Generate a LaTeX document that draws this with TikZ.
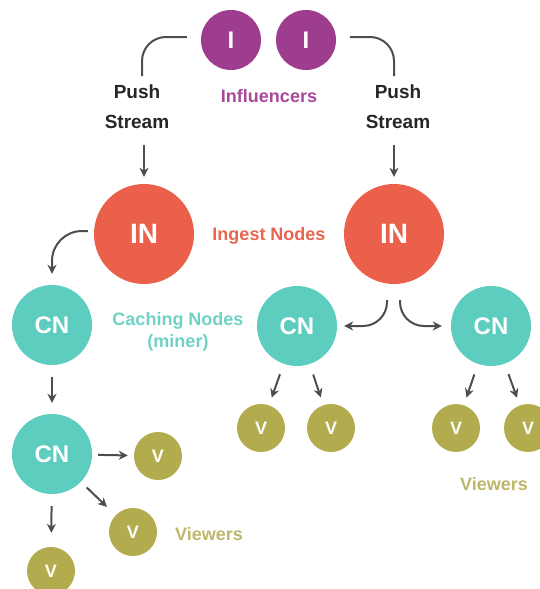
\documentclass[tikz,border=0pt]{standalone}
\usepackage{fontspec}
\setmainfont{Liberation Sans}
\usetikzlibrary{arrows.meta}
\definecolor{cI}{HTML}{9E3D8E}\definecolor{cIt}{HTML}{A8479B}
\definecolor{cIN}{HTML}{EA604A}\definecolor{cINt}{HTML}{E8654F}
\definecolor{cCN}{HTML}{5CCDBF}\definecolor{cCNt}{HTML}{70D1C5}
\definecolor{cV}{HTML}{B3AC4E}\definecolor{cVt}{HTML}{BDB76A}
\definecolor{cA}{HTML}{4D4D4D}\definecolor{cT}{HTML}{262626}
\newcommand{\fs}[1]{\fontsize{#1}{#1}\selectfont\bfseries}
\tikzset{>={Stealth[length=9pt,width=9pt]},every node/.style={font=\fs{18}},
dot/.style={circle,inner sep=0pt,text=white},
infl/.style={dot,fill=cI,minimum size=60pt,font=\fs{24}},
ingest/.style={dot,fill=cIN,minimum size=100pt,font=\fs{28}},
cache/.style={dot,fill=cCN,minimum size=80pt,font=\fs{24}},
viewer/.style={dot,fill=cV,minimum size=48pt,font=\fs{18}},
lbl/.style={inner sep=0pt,align=center},
flow/.style={line width=2pt,draw=cA,->},edge/.style={line width=2pt,draw=cA}}

\begin{document}
\begin{tikzpicture}[x=1pt,y=-1pt]
\useasboundingbox (0,0) rectangle (539,589);
\node[infl] (i1) at (231,40) {I};\node[infl] (i2) at (306,40) {I};
\node[lbl,text=cIt,anchor=base] (inf) at (269,102) {Influencers};
\node[lbl,text=cT,anchor=north,font=\fontsize{19}{30}\selectfont\bfseries] (pushL) at (137,85) {Push\\Stream};
\node[lbl,text=cT,anchor=north,font=\fontsize{19}{30}\selectfont\bfseries] (pushR) at (398,85) {Push\\Stream};
\node[ingest] (inL) at (144,234) {IN};\node[ingest] (inR) at (394,234) {IN};
\node[lbl,text=cINt,anchor=base] (ing) at (269,240) {Ingest Nodes};
\node[cache] (cnA) at (52,325) {CN};\node[cache] (cnB) at (52,454) {CN};
\node[cache] (cnM) at (297,326) {CN};\node[cache] (cnR) at (491,326) {CN};
\node[lbl,text=cCNt,anchor=north,font=\fontsize{18}{22}\selectfont\bfseries] (cach) at (178,312) {Caching Nodes\\(miner)};
% viewers
\node[viewer] (vA) at (158,456) {V};\node[viewer] (vB) at (133,532) {V};\node[viewer] (vC) at (51,571) {V};
\node[viewer] (vM1) at (261,428) {V};\node[viewer] (vM2) at (331,428) {V};
\node[viewer] (vR1) at (456,428) {V};\node[viewer] (vR2) at (528,428) {V};
\node[lbl,text=cVt,anchor=base] (viewL) at (209,540) {Viewers};
\node[lbl,text=cVt,anchor=base] (viewR) at (494,490) {Viewers};
% streams
\draw[edge,rounded corners=24pt] ([xshift=-14pt,yshift=3pt]i1.west) -| ([xshift=5pt,yshift=9pt]pushL.north);
\draw[edge,rounded corners=24pt] ([xshift=14pt,yshift=3pt]i2.east) -| ([xshift=-4pt,yshift=9pt]pushR.north);
\draw[flow,shorten <=16pt,shorten >=7pt] (pushL.south -| inL) -- (inL.north);
\draw[flow,shorten <=16pt,shorten >=7pt] (pushR.south -| inR) -- (inR.north);
\draw[flow,rounded corners=30pt] ([xshift=-6pt,yshift=3pt]inL.west) -| ([yshift=11pt]cnA.north);
\draw[flow,rounded corners=24pt] ([xshift=-7pt,yshift=-16pt]inR.south) |- ([xshift=7pt]cnM.east);
\draw[flow,rounded corners=24pt] ([xshift=6pt,yshift=-16pt]inR.south) |- ([xshift=-9pt]cnR.west);
\draw[flow,shorten <=12pt,shorten >=11pt] (cnA) -- (cnB);
\draw[flow,shorten <=6pt,shorten >=6pt] (cnB) -- (vA);
\draw[flow,shorten <=8pt,shorten >=12pt] (cnB) -- (vB);
\draw[flow,shorten <=12pt,shorten >=14pt] (cnB) -- (vC);
\foreach \c/\v in {cnM/vM1,cnM/vM2,cnR/vR1,cnR/vR2} \draw[flow,shorten <=11pt,shorten >=8pt] (\c) -- (\v);
\end{tikzpicture}
\end{document}
